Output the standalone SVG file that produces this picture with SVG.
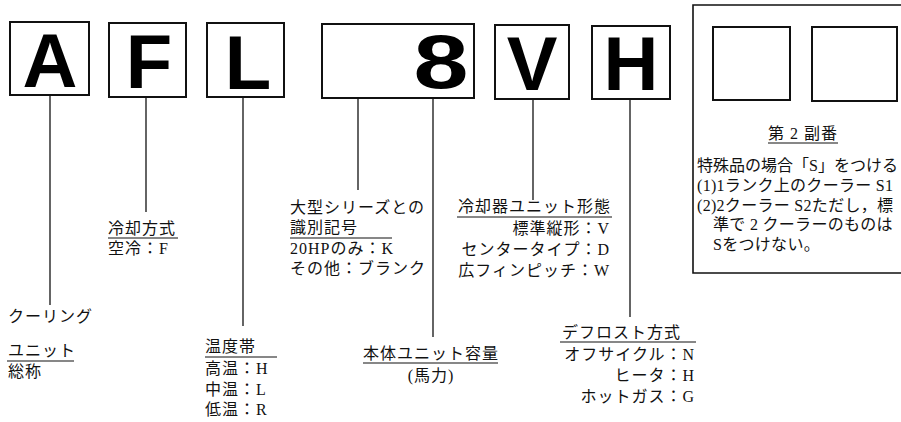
<svg xmlns="http://www.w3.org/2000/svg" width="901" height="422" viewBox="0 0 901 422">
<style>
.box{fill:#fff;stroke:#111;stroke-width:2}
.big{font-family:"Liberation Sans",Arial,sans-serif;font-weight:bold;font-size:76px;fill:#000;text-anchor:middle}
.jp{font-family:"Liberation Serif","Noto Sans CJK JP",serif;font-size:16px;letter-spacing:1px;fill:#111}
.jr{font-family:"Liberation Serif","Noto Sans CJK JP",serif;font-size:16px;letter-spacing:0.3px;fill:#111}
.end{text-anchor:end}
.mid{text-anchor:middle}
.ul{stroke:#111;stroke-width:1.2}
.con{stroke:#111;stroke-width:1.3;fill:none}
</style>
<rect width="901" height="422" fill="#fff"/>

<g id="connectors">
<line class="con" x1="50" y1="95" x2="50" y2="305"/>
<line class="con" x1="146" y1="97" x2="146" y2="212"/>
<line class="con" x1="243" y1="97" x2="243" y2="326"/>
<line class="con" x1="358" y1="98" x2="358" y2="190"/>
<line class="con" x1="433" y1="98" x2="433" y2="337"/>
<line class="con" x1="533" y1="99" x2="533" y2="200"/>
<line class="con" x1="630" y1="99" x2="630" y2="317"/>
</g>

<g id="box-A"><rect class="box" x="10" y="22" width="79" height="73"/><text class="big" x="50" y="87">A</text></g>
<g id="box-F"><rect class="box" x="109" y="23" width="77" height="74"/><text class="big" x="149" y="88">F</text></g>
<g id="box-L"><rect class="box" x="207" y="23" width="77" height="74"/><text class="big" x="248" y="89">L</text></g>
<g id="box-8"><rect class="box" x="322" y="24" width="152" height="74"/><text class="big" transform="translate(441,88) scale(1.3,1)" x="0" y="0">8</text></g>
<g id="box-V"><rect class="box" x="495" y="25" width="74" height="74"/><text class="big" x="532" y="90">V</text></g>
<g id="box-H"><rect class="box" x="592" y="26" width="78" height="73"/><text class="big" x="631" y="90">H</text></g>

<g id="sub-number">
<path d="M905,5 H693 V273 H905" fill="none" stroke="#111" stroke-width="1.6"/>
<rect class="box" x="713" y="27" width="77" height="73"/>
<rect class="box" x="812" y="27" width="85" height="74"/>
<text class="jp mid" x="803" y="139">第 2 副番</text>
<line class="ul" x1="768" y1="143" x2="838" y2="143"/>
<text class="jr" x="697" y="171" style="letter-spacing:0">特殊品の場合「S」をつける</text>
<text class="jr" x="697" y="191">(1)1ランク上のクーラー S1</text>
<text class="jr" x="697" y="211">(2)2クーラー S2ただし，標</text>
<text class="jr" x="713" y="230">準で 2 クーラーのものは</text>
<text class="jr" x="713" y="250">Sをつけない。</text>
</g>

<g id="label-A">
<text class="jp" x="8" y="322">クーリング</text>
<text class="jp" x="8" y="356">ユニット</text>
<line class="ul" x1="7" y1="361" x2="74" y2="361"/>
<text class="jp" x="8" y="377">総称</text>
</g>

<g id="label-F">
<text class="jp" x="108" y="234">冷却方式</text>
<line class="ul" x1="108" y1="238" x2="178" y2="238"/>
<text class="jp" x="108" y="254">空冷：F</text>
</g>

<g id="label-L">
<text class="jp" x="205" y="352">温度帯</text>
<line class="ul" x1="205" y1="357" x2="277" y2="357"/>
<text class="jp" x="205" y="374">高温：H</text>
<text class="jp" x="205" y="395">中温：L</text>
<text class="jp" x="205" y="415">低温：R</text>
</g>

<g id="label-series">
<text class="jp" x="290" y="213">大型シリーズとの</text>
<text class="jp" x="290" y="233">識別記号</text>
<line class="ul" x1="290" y1="238" x2="392" y2="238"/>
<text class="jp" x="290" y="254">20HPのみ：K</text>
<text class="jp" x="290" y="274">その他：ブランク</text>
</g>

<g id="label-capacity">
<text class="jp" x="363" y="359">本体ユニット容量</text>
<line class="ul" x1="363" y1="363" x2="498" y2="363"/>
<text class="jp mid" x="431" y="381">(馬力)</text>
</g>

<g id="label-V">
<text class="jp" x="458" y="212">冷却器ユニット形態</text>
<line class="ul" x1="457" y1="217" x2="612" y2="217"/>
<text class="jp end" x="610" y="234">標準縦形：V</text>
<text class="jp end" x="610" y="255">センタータイプ：D</text>
<text class="jp end" x="610" y="276">広フィンピッチ：W</text>
</g>

<g id="label-H">
<text class="jp" x="562" y="338">デフロスト方式</text>
<line class="ul" x1="560" y1="342" x2="696" y2="342"/>
<text class="jp end" x="695" y="360">オフサイクル：N</text>
<text class="jp end" x="695" y="381">ヒータ：H</text>
<text class="jp end" x="695" y="402">ホットガス：G</text>
</g>
</svg>
